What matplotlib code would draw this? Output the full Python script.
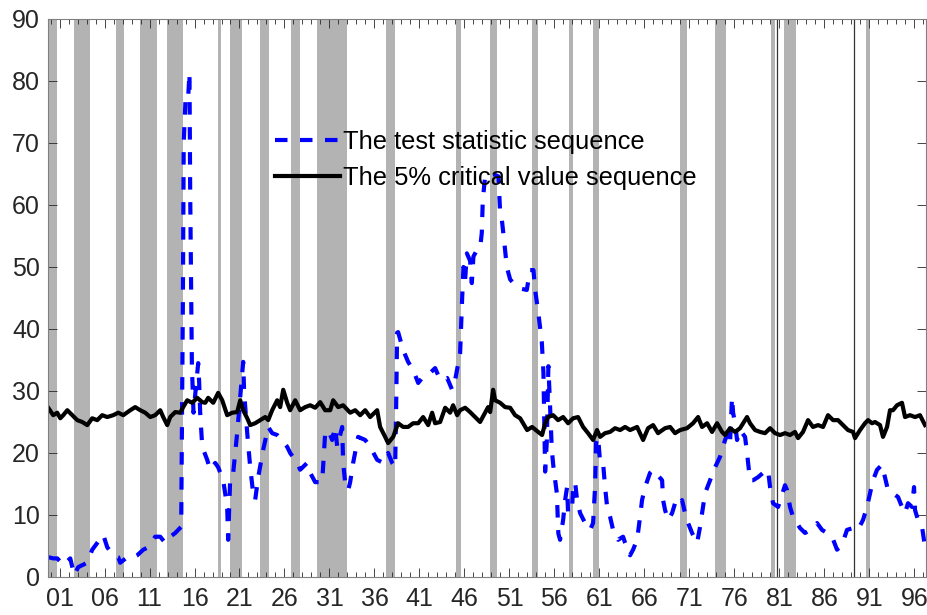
import numpy as np
import matplotlib
matplotlib.use("Agg")
import matplotlib.pyplot as plt

plt.rcParams['font.family'] = ['Liberation Sans', 'DejaVu Sans']

# ---------------- data ----------------
stat_years = [1899.74, 1900.30, 1900.74, 1901.08, 1901.41, 1902.19, 1902.63, 1903.08, 1904.08, 1904.63,
              1905.19, 1905.86, 1906.30, 1906.97, 1907.52, 1907.74, 1908.52, 1909.08, 1909.63, 1910.30,
              1910.86, 1911.63, 1912.19, 1912.74, 1913.30, 1913.86, 1914.52, 1914.71, 1914.80, 1914.91,
              1915.02, 1915.30, 1915.44, 1915.52, 1915.71, 1915.89, 1916.41, 1916.52, 1916.63, 1916.86,
              1917.41, 1917.74, 1918.30, 1918.63, 1919.19, 1919.63, 1919.74, 1919.97, 1920.30, 1920.74,
              1921.08, 1921.41, 1921.52, 1921.86, 1922.19, 1922.52, 1922.74, 1923.08, 1923.63, 1924.19,
              1924.63, 1925.19, 1925.52, 1926.30, 1926.63, 1927.41, 1927.74, 1928.52, 1928.86, 1929.41,
              1930.19, 1930.52, 1930.86, 1931.30, 1931.63, 1931.86, 1932.41, 1932.52, 1932.74, 1933.08,
              1933.30, 1933.63, 1934.19, 1934.97, 1935.52, 1936.30, 1936.97, 1937.52, 1937.97, 1938.30,
              1938.41, 1938.52, 1938.63, 1939.19, 1939.74, 1940.30, 1940.86, 1941.41, 1942.19, 1942.74,
              1943.30, 1944.08, 1944.63, 1944.97, 1945.52, 1945.74, 1945.89, 1946.08, 1946.27, 1946.63,
              1946.82, 1947.00, 1947.38, 1947.74, 1947.93, 1948.04, 1948.30, 1949.04, 1949.78, 1949.97,
              1950.16, 1950.41, 1950.71, 1951.08, 1951.44, 1951.82, 1952.30, 1952.93, 1953.30, 1953.67,
              1953.86, 1954.22, 1954.60, 1954.78, 1954.97, 1955.16, 1955.33, 1955.52, 1955.71, 1955.89,
              1956.27, 1956.44, 1956.63, 1956.97, 1957.19, 1957.41, 1957.52, 1957.97, 1958.08, 1958.30,
              1958.52, 1958.86, 1959.41, 1959.97, 1960.30, 1960.52, 1960.63, 1960.86, 1961.08, 1961.41,
              1961.63, 1961.86, 1962.19, 1962.52, 1963.08, 1963.63, 1963.86, 1964.41, 1964.74, 1965.19,
              1965.52, 1965.74, 1966.08, 1966.63, 1966.97, 1967.97, 1968.08, 1968.30, 1968.63, 1969.08,
              1969.41, 1969.74, 1970.19, 1970.52, 1970.86, 1971.30, 1971.86, 1972.19, 1972.41, 1972.74,
              1973.30, 1973.86, 1974.41, 1974.97, 1975.30, 1975.52, 1975.74, 1975.86, 1976.08, 1976.30,
              1976.63, 1977.19, 1977.41, 1977.74, 1978.08, 1978.63, 1979.19, 1979.74, 1979.97, 1980.30,
              1980.86, 1981.63, 1981.86, 1982.19, 1982.52, 1983.30, 1983.86, 1984.41, 1985.19, 1985.74,
              1986.30, 1986.86, 1987.41, 1987.97, 1988.52, 1989.19, 1989.74, 1990.30, 1990.74, 1991.08,
              1991.41, 1991.86, 1992.41, 1992.74, 1993.08, 1993.63, 1994.19, 1994.63, 1994.97, 1995.30,
              1995.74, 1995.97, 1996.08, 1996.41, 1996.86, 1997.19]
stat_values = [3.2, 3.0, 3.0, 2.5, 1.9, 3.0, 0.3, 1.6, 2.3, 4.4,
               5.5, 6.8, 4.8, 3.5, 3.2, 2.3, 3.2, 3.1, 3.5, 4.4,
               4.8, 6.5, 6.5, 5.5, 6.5, 7.1, 8.1, 45.0, 70.0, 74.0,
               77.7, 77.5, 81.3, 62.0, 34.0, 26.5, 34.5, 31.3, 26.5, 21.0,
               18.9, 17.3, 18.4, 17.7, 15.6, 11.3, 6.0, 16.1, 16.8, 23.2,
               29.0, 34.7, 29.7, 23.2, 17.7, 13.5, 12.4, 16.1, 20.5, 24.2,
               23.2, 22.9, 22.4, 21.0, 20.0, 18.4, 17.3, 18.4, 16.8, 15.3,
               15.3, 23.2, 23.7, 22.1, 24.2, 21.0, 24.2, 18.4, 15.3, 14.0,
               15.3, 18.4, 22.6, 22.1, 21.0, 18.9, 18.4, 20.0, 18.4, 17.7,
               27.4, 39.4, 39.5, 36.6, 34.7, 33.4, 31.3, 32.3, 32.9, 33.7,
               31.8, 32.1, 30.2, 31.8, 36.1, 44.7, 50.0, 48.0, 52.2, 51.0,
               47.4, 51.7, 52.7, 53.0, 55.5, 60.8, 64.6, 65.1, 64.6, 58.7,
               57.6, 54.3, 50.0, 48.0, 47.4, 46.8, 46.5, 46.3, 49.5, 49.5,
               46.3, 42.5, 37.9, 33.0, 17.0, 22.0, 34.0, 27.5, 20.5, 17.8,
               13.5, 7.0, 6.0, 9.2, 12.4, 14.5, 10.3, 11.3, 14.5, 15.3,
               12.4, 10.3, 8.7, 7.6, 8.7, 14.5, 21.6, 22.6, 18.4, 18.4,
               14.5, 11.3, 9.7, 7.6, 6.0, 6.5, 5.5, 3.5, 4.4, 6.0,
               9.7, 12.4, 14.5, 16.8, 17.3, 15.6, 12.4, 10.8, 9.2, 10.3,
               11.9, 11.3, 12.4, 10.3, 8.7, 7.1, 5.5, 8.1, 10.3, 13.5,
               15.6, 17.7, 19.4, 22.1, 23.2, 21.6, 29.0, 26.5, 24.8, 22.1,
               23.7, 22.6, 20.0, 15.6, 15.6, 16.1, 16.8, 17.3, 14.5, 11.9,
               11.3, 14.8, 14.0, 11.3, 9.7, 7.9, 7.1, 7.6, 8.7, 7.6,
               7.1, 6.5, 4.4, 5.2, 7.6, 7.9, 7.6, 9.2, 11.3, 13.5,
               15.6, 17.3, 18.1, 16.1, 14.0, 13.5, 12.9, 11.3, 10.3, 11.9,
               11.3, 14.5, 10.8, 9.2, 8.1, 4.8]

crit_years = [1899.74, 1900.30, 1900.74, 1901.08, 1901.41, 1901.86, 1902.41, 1902.97, 1903.52, 1904.08,
              1904.63, 1905.19, 1905.74, 1906.30, 1906.97, 1907.52, 1908.08, 1908.86, 1909.41, 1909.97,
              1910.52, 1911.08, 1911.63, 1912.19, 1912.52, 1912.97, 1913.30, 1913.86, 1914.41, 1914.74,
              1915.19, 1915.74, 1916.30, 1916.86, 1917.19, 1917.52, 1918.08, 1918.63, 1919.08, 1919.63,
              1920.19, 1920.74, 1921.08, 1921.41, 1921.86, 1922.19, 1922.74, 1923.30, 1923.86, 1924.19,
              1924.63, 1925.19, 1925.52, 1925.86, 1926.30, 1926.63, 1927.19, 1927.74, 1928.30, 1928.86,
              1929.41, 1929.97, 1930.52, 1931.08, 1931.41, 1931.97, 1932.52, 1933.30, 1933.86, 1934.41,
              1934.97, 1935.52, 1936.30, 1936.63, 1937.19, 1937.52, 1938.08, 1938.63, 1939.19, 1939.74,
              1940.30, 1940.86, 1941.41, 1941.97, 1942.41, 1942.74, 1943.30, 1943.86, 1944.41, 1944.74,
              1945.19, 1945.52, 1946.08, 1946.63, 1947.19, 1947.74, 1948.30, 1948.63, 1948.86, 1949.19,
              1949.41, 1949.97, 1950.52, 1951.08, 1951.63, 1952.19, 1952.97, 1953.52, 1954.19, 1954.63,
              1954.97, 1955.30, 1955.86, 1956.41, 1956.97, 1957.52, 1958.08, 1958.63, 1959.19, 1959.74,
              1960.30, 1960.74, 1961.08, 1961.63, 1962.19, 1962.74, 1963.30, 1963.86, 1964.41, 1965.19,
              1965.86, 1966.41, 1966.97, 1967.52, 1968.30, 1968.86, 1969.41, 1969.97, 1970.74, 1971.41,
              1971.97, 1972.41, 1972.97, 1973.52, 1974.08, 1974.63, 1974.97, 1975.52, 1976.08, 1976.63,
              1977.41, 1977.74, 1978.30, 1978.86, 1979.41, 1979.97, 1980.52, 1981.08, 1981.63, 1982.19,
              1982.74, 1983.08, 1983.63, 1984.19, 1984.74, 1985.30, 1985.86, 1986.41, 1986.97, 1987.52,
              1988.08, 1988.63, 1989.19, 1989.41, 1989.97, 1990.52, 1990.86, 1991.30, 1991.63, 1992.19,
              1992.52, 1992.97, 1993.30, 1993.63, 1994.08, 1994.63, 1994.97, 1995.52, 1996.08, 1996.63,
              1997.19]
crit_values = [27.3, 26.1, 26.5, 25.6, 26.1, 26.9, 26.1, 25.3, 25.0, 24.5,
               25.6, 25.3, 26.1, 25.8, 26.1, 26.5, 26.1, 26.9, 27.4, 26.9,
               26.5, 25.8, 26.1, 26.9, 25.8, 24.5, 25.8, 26.6, 26.5, 27.4,
               28.5, 28.1, 28.9, 28.2, 28.1, 28.9, 28.1, 29.7, 28.5, 26.1,
               26.5, 26.6, 28.5, 26.9, 25.6, 24.5, 24.8, 25.3, 25.8, 25.3,
               26.9, 28.5, 27.4, 30.2, 28.1, 26.9, 28.5, 26.9, 27.4, 27.7,
               27.3, 28.2, 26.9, 26.9, 28.5, 27.4, 27.7, 26.5, 26.9, 26.1,
               26.9, 25.8, 26.9, 24.2, 22.6, 21.6, 22.6, 24.8, 24.2, 24.2,
               24.8, 24.8, 25.8, 24.5, 26.5, 24.8, 25.0, 27.3, 26.5, 27.7,
               26.1, 26.9, 27.3, 26.6, 25.8, 25.0, 26.5, 27.4, 26.6, 30.2,
               28.5, 28.1, 27.4, 27.3, 26.1, 25.6, 23.7, 24.2, 23.4, 22.9,
               24.8, 25.8, 26.1, 25.3, 25.8, 24.8, 25.6, 25.8, 24.2, 23.2,
               22.1, 23.7, 22.6, 23.2, 23.4, 24.0, 23.7, 24.2, 23.7, 24.2,
               22.1, 24.0, 24.5, 23.2, 24.0, 24.2, 23.2, 23.7, 24.0, 24.8,
               25.8, 24.2, 24.8, 23.4, 24.8, 23.4, 22.9, 24.0, 23.4, 24.0,
               25.8, 24.8, 23.7, 23.4, 23.2, 24.0, 23.2, 22.9, 23.2, 22.9,
               23.4, 22.4, 23.4, 25.3, 24.2, 24.5, 24.2, 26.1, 25.3, 25.3,
               24.5, 23.7, 23.4, 22.4, 23.7, 24.8, 25.3, 24.8, 25.0, 24.5,
               22.6, 24.2, 26.9, 26.9, 27.7, 28.1, 25.8, 26.1, 25.8, 26.1,
               24.5]

rec_start = [1899.5, 1902.63, 1907.30, 1909.97, 1912.93, 1918.56, 1919.97, 1923.30, 1926.74, 1929.60,
             1937.30, 1945.08, 1948.86, 1953.56, 1957.63, 1960.33, 1969.97, 1973.89, 1980.08, 1981.56,
             1990.60]
rec_end = [1900.71, 1904.33, 1908.20, 1911.82, 1914.71, 1918.93, 1921.33, 1924.33, 1927.67, 1932.93,
           1938.30, 1945.63, 1949.60, 1954.19, 1958.10, 1960.97, 1970.78, 1975.08, 1980.52, 1982.82,
           1991.10]
marker_lines = [1980.74, 1989.30]

tick_years = list(range(1901, 1997, 5))
tick_labels = ["%02d" % (y % 100) for y in tick_years]

label_stat = "The test statistic sequence"
label_crit = "The 5% critical value sequence"

# ---------------- plot ----------------
fig = plt.figure(figsize=(9.28, 6.15), dpi=100)
ax = fig.add_axes([48.3 / 928, 1 - 577 / 615, (926 - 48.3) / 928, (577 - 19) / 615])

for s, e in zip(rec_start, rec_end):
    ax.axvspan(s, e, color='#b3b3b3', lw=0, zorder=1)
for xv in marker_lines:
    ax.axvline(xv, color='#333333', lw=0.9, zorder=1.5)

l1, = ax.plot(stat_years, stat_values, color='#0000ff', lw=3.0, dashes=(3.0, 3.0),
              dash_capstyle='butt', zorder=3, label=label_stat)
l2, = ax.plot(crit_years, crit_values, color='black', lw=3.0, zorder=4, label=label_crit,
              solid_joinstyle='round')

ax.set_xlim(1899.75, 1997.3)
ax.set_ylim(0, 90)
ax.set_yticks(np.arange(0, 91, 10))
ax.set_xticks(tick_years)
ax.set_xticklabels(tick_labels)
ax.set_xticks(np.arange(1900, 1998, 1), minor=True)

ax.tick_params(axis='both', which='both', direction='in', top=True, right=True,
               colors='#262626', width=0.6)
ax.tick_params(axis='both', which='major', length=6.5, labelsize=18, pad=6)
ax.tick_params(axis='x', which='major', pad=7)
ax.tick_params(axis='both', which='minor', length=3.5)
ax.tick_params(axis='y', which='minor', left=False, right=False)
for sp in ax.spines.values():
    sp.set_color('#808080')
    sp.set_linewidth(0.8)
    sp.set_zorder(5)

leg = ax.legend(handles=[l1, l2], loc='center left',
                bbox_to_anchor=(275 / 928, 1 - 160 / 615), bbox_transform=fig.transFigure,
                frameon=False, fontsize=18.4, handlelength=2.55, handletextpad=0.12,
                borderpad=0, borderaxespad=0, labelspacing=0.5)
leg.set_zorder(6)

fig.savefig("out.png", dpi=100)
